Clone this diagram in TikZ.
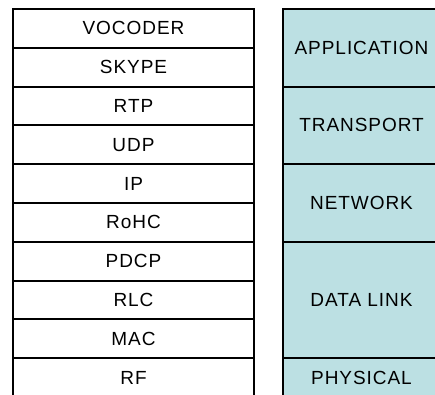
\documentclass[tikz,border=0pt]{standalone}
\usepackage{fontspec}
\setmainfont{Liberation Sans}[LetterSpace=5]
\usepackage{xcolor,tikz}
\usetikzlibrary{positioning}
\definecolor{ositeal}{RGB}{188,224,227}
\tikzset{lay/.style={draw=black,fill=white,line width=2pt,minimum width=241pt,minimum height=38.8pt,inner sep=0pt},
 osi/.style={draw=black,fill=ositeal,line width=2pt,minimum width=157pt,inner sep=0pt}}

\begin{document}
\begin{tikzpicture}[x=1pt,y=-1pt,font=\fontsize{19}{21}\selectfont]
\useasboundingbox (0,0) rectangle (435,394);
\clip (0,0) rectangle (435,394);
% protocol stack
\node[lay](voc) at (133.5,28.4){VOCODER};
\node[lay](sky) at (133.5,67.2){SKYPE};
\node[lay](rtp) at (133.5,106){RTP};
\node[lay](udp) at (133.5,144.8){UDP};
\node[lay](ip) at (133.5,183.6){IP};
\node[lay](rohc) at (133.5,222.4){RoHC};
\node[lay](pdcp) at (133.5,261.2){PDCP};
\node[lay](rlc) at (133.5,300){RLC};
\node[lay](mac) at (133.5,338.8){MAC};
\node[lay](rf) at (133.5,377.6){RF};
% osi layers
\node[osi,minimum height=77.6pt](app) at (361.5,47.8){APPLICATION};
\node[osi,minimum height=77.6pt](tra) at (361.5,125.4){TRANSPORT};
\node[osi,minimum height=77.6pt](net) at (361.5,203){NETWORK};
\node[osi,minimum height=116.4pt](dl) at (361.5,300){DATA LINK};
\node[osi,minimum height=38.8pt](phy) at (361.5,377.6){PHYSICAL};
\end{tikzpicture}
\end{document}
